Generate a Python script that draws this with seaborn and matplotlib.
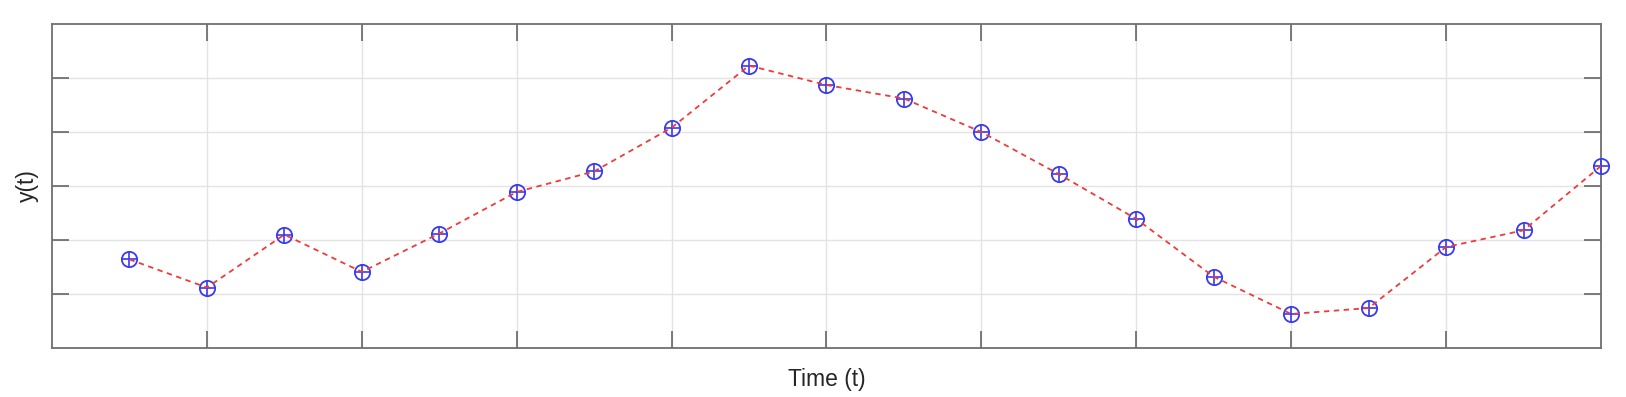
import matplotlib
matplotlib.use("Agg")
import matplotlib.pyplot as plt
import pandas as pd
import seaborn as sns

# Samples
t = [0.5, 1.0, 1.5, 2.0, 2.5, 3.0, 3.5, 4.0, 4.5, 5.0,
     5.5, 6.0, 6.5, 7.0, 7.5, 8.0, 8.5, 9.0, 9.5, 10.0]
y = [1.64, 1.12, 2.10, 1.41, 2.12, 2.89, 3.27, 4.08, 5.23, 4.87,
     4.62, 4.00, 3.22, 2.39, 1.32, 0.63, 0.74, 1.87, 2.18, 3.37]
x_ticks = [1, 2, 3, 4, 5, 6, 7, 8, 9]
y_ticks = [1, 2, 3, 4, 5]

df = pd.DataFrame({"t": t, "y": y})

sns.set_style("white")
plt.rcParams["font.family"] = ["Liberation Sans", "DejaVu Sans"]

fig = plt.figure(figsize=(16.26, 3.97), dpi=100)
ax = fig.add_axes([0.032, 0.1234, 0.9526, 0.8161])

# markers: open circle with a plus inside
ax.plot(df["t"], df["y"], linestyle="none", marker="o", markersize=11,
        markerfacecolor="none", markeredgecolor="#3a3af0", markeredgewidth=1.3,
        clip_on=False, zorder=3)
ax.plot(df["t"], df["y"], linestyle="none", marker="+", markersize=11,
        markeredgecolor="#3a3af0", markeredgewidth=1.2, clip_on=False, zorder=3)

# red dashed connecting line
sns.lineplot(data=df, x="t", y="y", ax=ax, color="#f03a3a", linewidth=1.3,
             linestyle=(0, (3, 2.5)), clip_on=False, zorder=4)

ax.set_xlim(0, 10)
ax.set_ylim(0, 6)
ax.set_xticks(x_ticks)
ax.set_yticks(y_ticks)
ax.set_xticklabels([])
ax.set_yticklabels([])
ax.tick_params(direction="in", length=12, width=1.2, color="#666666",
               top=True, right=True, bottom=True, left=True)
ax.grid(True, color="#e3e3e3", linewidth=1)
for s in ax.spines.values():
    s.set_color("#707070")
    s.set_linewidth(1.3)

ax.set_xlabel("Time (t)", fontsize=16.5, color="#262626", labelpad=11)
ax.set_ylabel("y(t)", fontsize=16.5, color="#262626", labelpad=6)

fig.savefig("out.png", dpi=100)
